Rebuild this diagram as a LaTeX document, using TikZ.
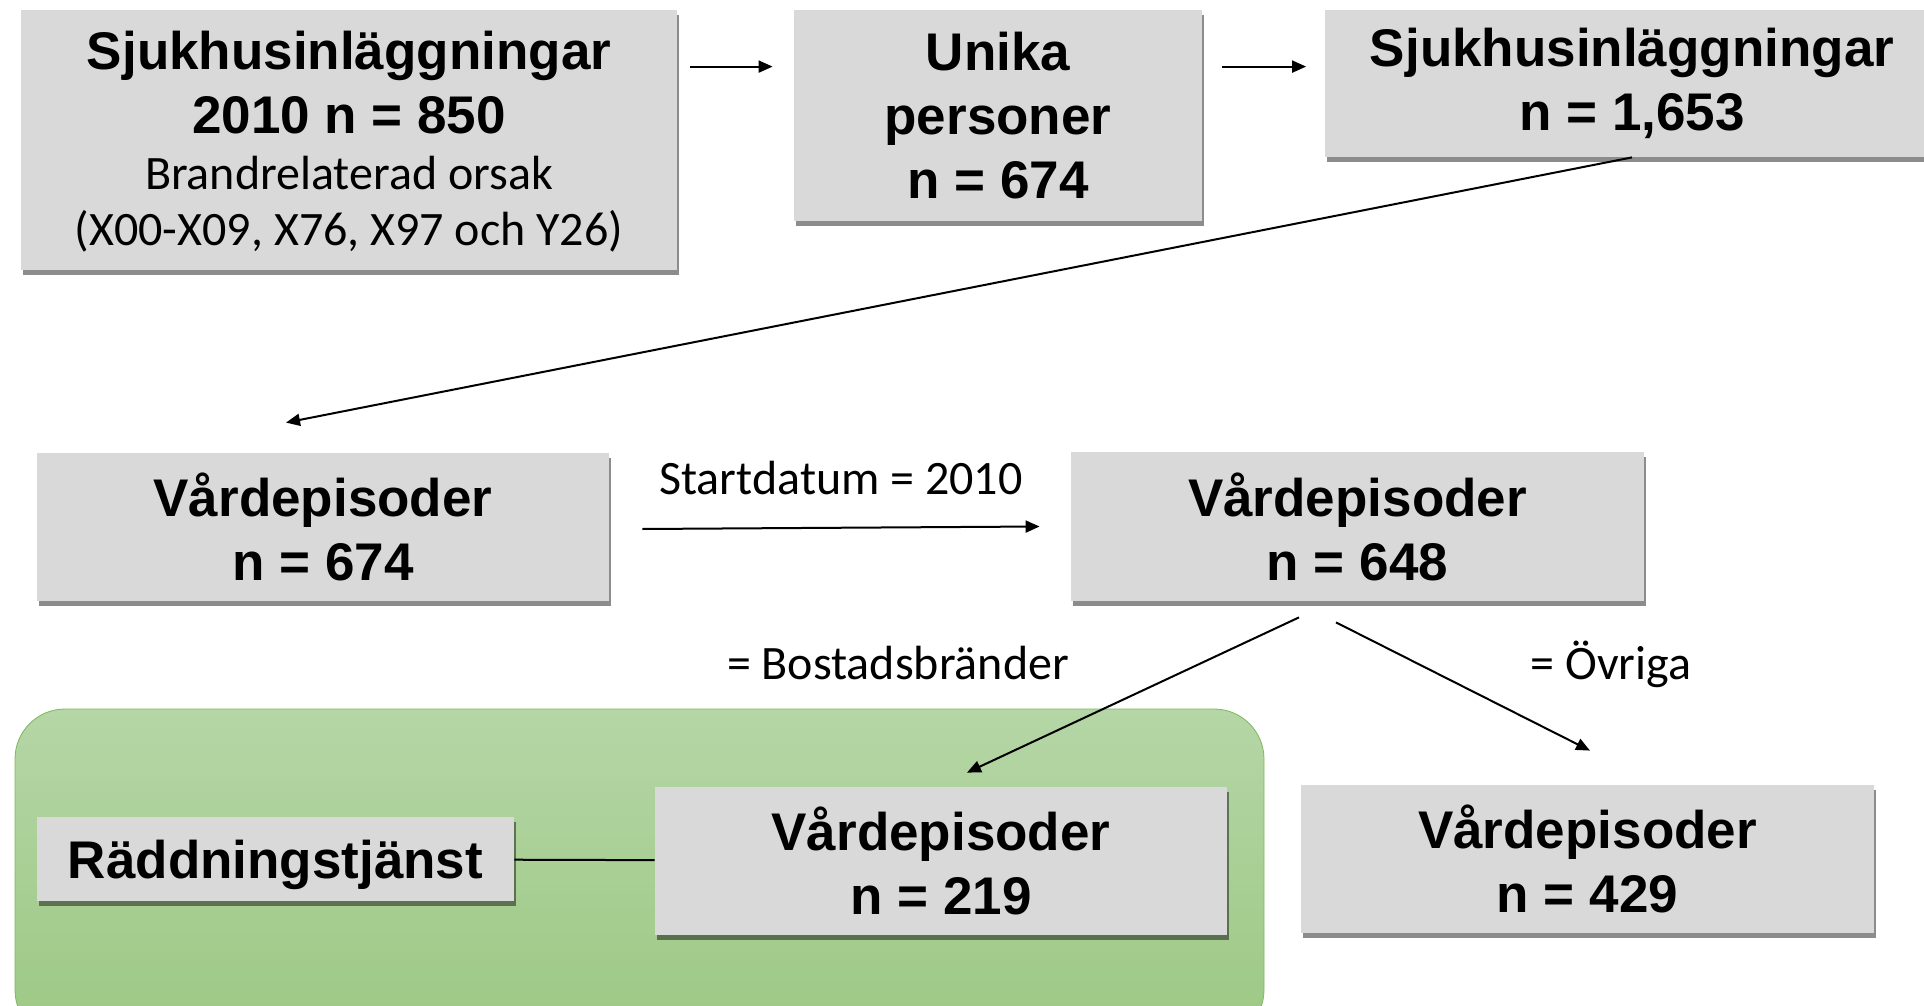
\documentclass[tikz,border=0pt]{standalone}
\usepackage{fontspec}
\setmainfont{Carlito}
\newfontfamily\boxfont{Liberation Sans}
\usetikzlibrary{arrows.meta,shadows}
\definecolor{boxgray}{HTML}{D9D9D9}
\definecolor{greentop}{HTML}{B5D6A6}
\definecolor{greenbot}{HTML}{9CC883}
\definecolor{greenedge}{HTML}{7DB85A}
\newcommand{\plaintxt}{\normalfont\fontsize{24}{27}\selectfont}
\begin{document}
\begin{tikzpicture}[x=0.5pt,y=-0.5pt,
	gbox/.style={fill=boxgray, drop shadow={shadow xshift=1pt,shadow yshift=-2.5pt,opacity=0.45,fill=black},
		inner sep=0pt, align=center, font=\boxfont\bfseries\fontsize{26.5}{32}\selectfont},
	flow/.style={-{Triangle[length=7pt,width=6pt]}, line width=1pt},
	lbl/.style={font=\fontsize{24}{27}\selectfont}]
			\clip (0,0) rectangle (1924,1006);
			
			%green area
			\draw[greenedge, top color=greentop, bottom color=greenbot, rounded corners=25pt] (15,709) rectangle (1264,1040);
			
			%top row
			\node[gbox, minimum width=328pt, minimum height=130pt, text height=0pt] (adm) at (349,140) {};
			\node[align=center, inner sep=0pt, font=\boxfont\bfseries\fontsize{26.5}{32}\selectfont] (admtxt) at (349,142) {Sjukhusinläggningar\\2010 n = 850\\[-4pt]{\plaintxt Brandrelaterad orsak}\\[-4pt]{\plaintxt (X00-X09, X76, X97 och Y26)}};
			\node[gbox, minimum width=204pt, minimum height=105.5pt] (uniq) at (998,115.5) {Unika\\personer\\n = 674};
			\node[gbox, minimum width=307.5pt, minimum height=73.5pt] (adm2) at (1632,83.5) {Sjukhusinläggningar\\n = 1,653};
			
			%middle row
			\node[gbox, minimum width=286pt, minimum height=74pt] (ep1) at (323,527) {Vårdepisoder\\n = 674};
			\node[gbox, minimum width=286.5pt, minimum height=74.5pt] (ep2) at (1357.5,526.5) {Vårdepisoder\\n = 648};
			
			%bottom row
			\node[gbox, minimum width=238.5pt, minimum height=42pt, text depth=0pt] (rescue) at (275.5,859) {Räddningstjänst};
			\node[gbox, minimum width=286pt, minimum height=74pt] (fire) at (941,861) {Vårdepisoder\\n = 219};
			\node[gbox, minimum width=286.5pt, minimum height=74pt] (other) at (1587.5,859) {Vårdepisoder\\n = 429};
			
			\draw[flow] ([shift={(6.5pt,-28.5pt)}]adm.north east) -- ([shift={(-10.5pt,-28.5pt)}]uniq.north west);
			\draw[flow] ([shift={(10pt,-28.5pt)}]uniq.north east) -- ([shift={(-9pt,-28.5pt)}]adm2.north west);
			\draw[flow] (adm2.south) -- ([shift={(-18.5pt,15pt)}]ep1.north);
			\draw[flow] ([shift={(16.5pt,-1pt)}]ep1.east) -- node[lbl, above=12.5pt] (startlbl) {Startdatum = 2010} ([xshift=-15.5pt]ep2.west);
			\draw[flow] ([shift={(-29.25pt,-8pt)}]ep2.south) -- ([shift={(13pt,7pt)}]fire.north);
			\draw[flow] ([shift={(-10.75pt,-10.5pt)}]ep2.south) -- ([shift={(1.25pt,17pt)}]other.north);
			\draw[line width=1pt] (rescue) -- (fire);
			
			\node[lbl] (firelbl) at (898,663) {= Bostadsbränder};
			\node[lbl] (otherlbl) at (1611,664) {= Övriga};
\end{tikzpicture}
\end{document}
